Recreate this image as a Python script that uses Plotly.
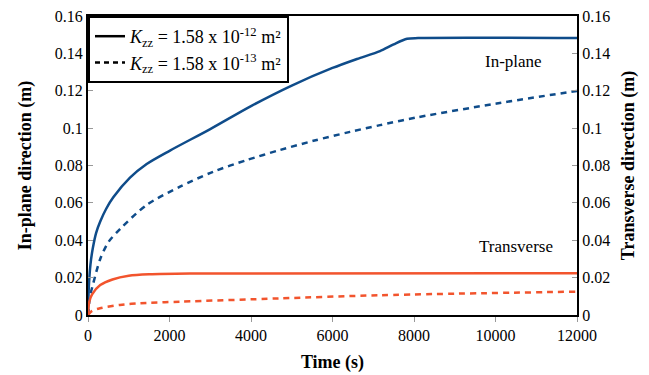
import plotly.graph_objects as go

# Time (s) and displacement (m)
t_in_solid = [0, 20, 60, 120, 200, 300, 450, 621, 1031, 1440, 2012, 3000, 4000, 5000, 6000, 6600, 7166, 7500, 7830, 8100, 12000]
v_in_solid = [0, 0.015, 0.027, 0.036, 0.044, 0.050, 0.057, 0.063, 0.0735, 0.0808, 0.0880, 0.0995, 0.1118, 0.1228, 0.1322, 0.1370, 0.1412, 0.1448, 0.1478, 0.1482, 0.1482]

t_in_dash = [0, 50, 130, 300, 500, 785, 1440, 2258, 3076, 3894, 4712, 5530, 6430, 7166, 8065, 10030, 12000]
v_in_dash = [0, 0.010, 0.017, 0.030, 0.039, 0.046, 0.0589, 0.0687, 0.0767, 0.0829, 0.0883, 0.0932, 0.0980, 0.1016, 0.1057, 0.1132, 0.1199]

t_tr_solid = [0, 30, 100, 300, 600, 1000, 1500, 2500, 12000]
v_tr_solid = [0, 0.007, 0.011, 0.016, 0.019, 0.021, 0.0218, 0.0222, 0.0223]

t_tr_dash = [0, 100, 294, 785, 1276, 2258, 4712, 7166, 12000]
v_tr_dash = [0, 0.0022, 0.0036, 0.0054, 0.0063, 0.0071, 0.0089, 0.0106, 0.0125]

x_ticks = [0, 2000, 4000, 6000, 8000, 10000, 12000]
x_ticktext = ["0", "2000", "4000", "6000", "8000", "10000", "12000"]
y_ticks = [0, 0.02, 0.04, 0.06, 0.08, 0.1, 0.12, 0.14, 0.16]
y_ticktext = ["0", "0.02", "0.04", "0.06", "0.08", "0.1", "0.12", "0.14", "0.16"]

legend_labels = ["<i>K</i><sub>zz</sub> = 1.58 x 10<sup>-12</sup> m²",
                 "<i>K</i><sub>zz</sub> = 1.58 x 10<sup>-13</sup> m²"]

BLUE = "#0F4C8A"
ORANGE = "#F2542D"
FONT = "Liberation Serif"

fig = go.Figure()
common = dict(mode="lines", line_shape="spline", showlegend=False)
fig.add_trace(go.Scatter(x=t_in_solid, y=v_in_solid,
                         line=dict(color=BLUE, width=2.5, smoothing=0.8), **common))
fig.add_trace(go.Scatter(x=t_in_dash, y=v_in_dash,
                         line=dict(color=BLUE, width=2.5, dash="6px,5px", smoothing=0.8), **common))
fig.add_trace(go.Scatter(x=t_tr_solid, y=v_tr_solid, yaxis="y2",
                         line=dict(color=ORANGE, width=2.5, smoothing=0.8), **common))
fig.add_trace(go.Scatter(x=t_tr_dash, y=v_tr_dash, yaxis="y2",
                         line=dict(color=ORANGE, width=2.5, dash="6px,5px", smoothing=0.8), **common))
# legend entries (black)
fig.add_trace(go.Scatter(x=[None], y=[None], mode="lines", name=legend_labels[0],
                         line=dict(color="black", width=2.5)))
fig.add_trace(go.Scatter(x=[None], y=[None], mode="lines", name=legend_labels[1],
                         line=dict(color="black", width=2.5, dash="5px,4px")))

fig.add_annotation(x=10430, y=0.1354, text="In-plane", showarrow=False,
                   font=dict(family=FONT, size=17, color="black"))
fig.add_annotation(x=10500, y=0.0364, text="Transverse", showarrow=False,
                   font=dict(family=FONT, size=17, color="black"))

# the page body adds an 8px offset, so the figure is sized to fit the window
fig.update_layout(
    width=641, height=367,
    margin=dict(l=80, r=72, t=8, b=60),
    paper_bgcolor="white", plot_bgcolor="white",
    font=dict(family=FONT, size=16, color="black"),
    xaxis=dict(range=[0, 12000], tickvals=x_ticks, ticktext=x_ticktext,
               tickfont=dict(family=FONT, size=16), automargin=False,
               showline=True, linecolor="black", linewidth=2, mirror=True,
               ticks="outside", ticklen=5, tickcolor="#999999", showgrid=False, zeroline=False,
               title=dict(text="<b>Time (s)</b>", font=dict(family=FONT, size=18), standoff=12)),
    yaxis=dict(range=[0, 0.16], tickvals=y_ticks, ticktext=y_ticktext,
               tickfont=dict(family=FONT, size=16), automargin=False, ticklabeloverflow="allow",
               showline=True, linecolor="black", linewidth=2, mirror=True,
               ticks="inside", ticklen=5, tickcolor="#999999", showgrid=False, zeroline=False,
               title=dict(text="<b>In-plane direction (m)</b>", font=dict(family=FONT, size=18), standoff=18)),
    yaxis2=dict(range=[0, 0.16], tickvals=y_ticks, ticktext=y_ticktext,
                tickfont=dict(family=FONT, size=16), automargin=False, ticklabeloverflow="allow",
                overlaying="y", side="right",
                showline=True, linecolor="black", linewidth=2,
                ticks="inside", ticklen=5, tickcolor="#999999", showgrid=False, zeroline=False,
                title=dict(text="<b>Transverse direction (m)</b>", font=dict(family=FONT, size=18), standoff=12)),
    legend=dict(x=0, y=1, xanchor="left", yanchor="top", bgcolor="white",
                bordercolor="black", borderwidth=2, font=dict(family=FONT, size=18),
                tracegroupgap=0),
)

fig.write_html("out.html")
